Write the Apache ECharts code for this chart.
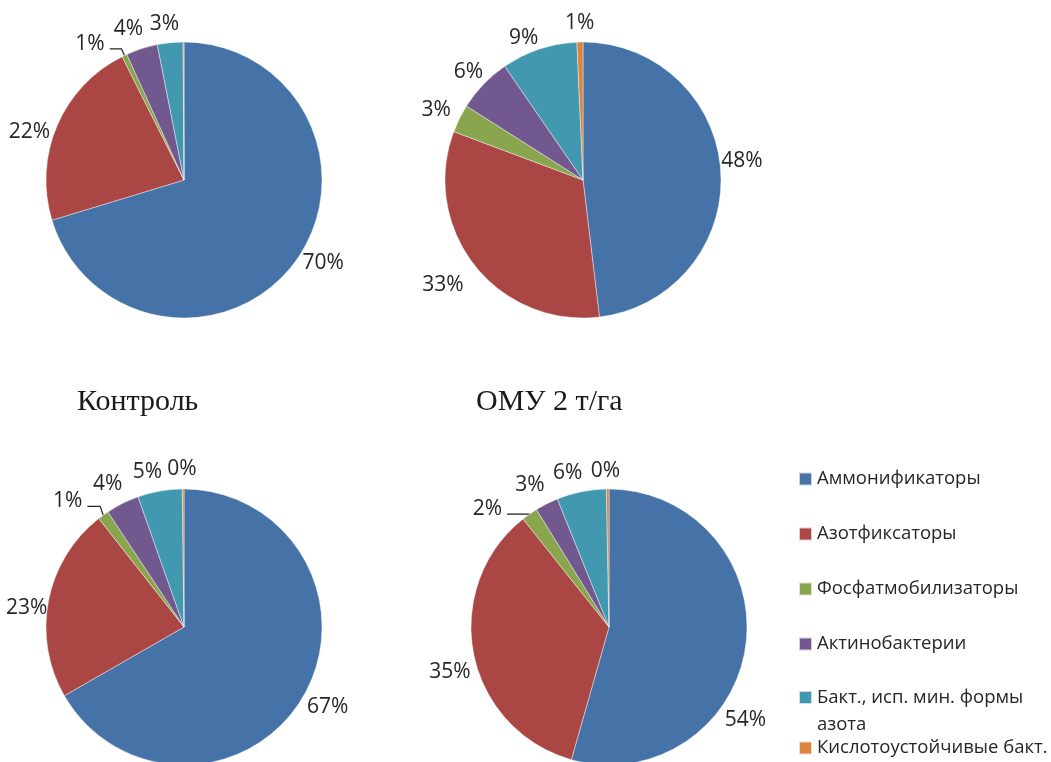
<!DOCTYPE html>
<html>
<head>
<meta charset="utf-8">
<script src="https://cdn.jsdelivr.net/npm/echarts@6/dist/echarts.min.js"></script>
<style>
  html, body { margin: 0; padding: 0; background: #fff; }
  #chart { width: 1051px; height: 762px; }
</style>
</head>
<body>
<div id="chart"></div>
<script>
// Groups of soil bacteria (share, %)
const categories = [
  'Аммонификаторы',
  'Азотфиксаторы',
  'Фосфатмобилизаторы',
  'Актинобактерии',
  'Бакт., исп. мин. формы азота',
  'Кислотоустойчивые бакт.'
];
const panelTitles = ['Контроль', 'ОМУ 2 т/га'];

// Four pies: control / OMU, upper and lower row
const controlUpper = [70.3, 22.3, 0.6, 3.7, 3.0, 0.1];
const omuUpper     = [48.1, 32.6, 3.3, 6.4, 8.9, 0.7];
const controlLower = [66.7, 22.7, 1.3, 3.9, 5.2, 0.2];
const omuLower     = [54.4, 34.9, 1.9, 2.7, 5.8, 0.3];

const palette = ['#4572A7', '#AA4643', '#89A54E', '#71588F', '#4198AF', '#DB843D'];

const RADIUS = 138;
const LABEL_GAP = 6;

// Layout of each pie: centre, hidden labels, slice with a leader line, label nudges
const pies = [
  { values: controlUpper, center: [184, 180], hidden: [5], leader: 2,
    nudge: [[5, -16], [-1, 18], [-25, 8], [-7, 0], [-4, -1], [0, 0]] },
  { values: omuUpper, center: [583, 180], hidden: [], leader: -1,
    nudge: [[-6, -9], [-9, 2], [-2, 2], [2, 4], [-9, 8], [0, -2]] },
  { values: controlLower, center: [184, 627], hidden: [], leader: 2,
    nudge: [[-1, -4], [6, 13], [-22, 5], [-5, 0], [-9, 0], [-1, -3]] },
  { values: omuLower, center: [609, 627], hidden: [], leader: 2,
    nudge: [[-28, 70], [4, 12], [-29, 14], [-7, 1], [-10, 0], [-2, -1]] }
];

// Mid angle of a slice, clockwise from 12 o'clock, in radians
function midAngle(values, idx) {
  const total = values.reduce((a, b) => a + b, 0);
  let cum = 0;
  for (let i = 0; i < idx; i++) cum += values[i];
  return 2 * Math.PI * (cum + values[idx] / 2) / total;
}

function makeLabelLayout(pie) {
  return function (params) {
    const i = params.dataIndex;
    const a = midAngle(pie.values, i);
    const dx = Math.sin(a), dy = -Math.cos(a);
    const w = params.labelRect.width, h = params.labelRect.height;
    const dist = RADIUS + LABEL_GAP + Math.abs(dx) * w / 2 + Math.abs(dy) * h / 2;
    const n = pie.nudge[i];
    const x = pie.center[0] + dx * dist + n[0];
    const y = pie.center[1] + dy * dist + n[1];
    const out = { x: x, y: y, align: 'center', verticalAlign: 'middle' };
    if (i === pie.leader) {
      const p0 = [pie.center[0] + dx * RADIUS, pie.center[1] + dy * RADIUS];
      const ly = Math.min(y + 5, p0[1]);
      const p1 = [p0[0] - 3, ly];
      const p2 = [x + w / 2 + 5, ly];
      out.labelLinePoints = [p0, p1, p2];
    }
    return out;
  };
}

const series = pies.map(function (pie) {
  return {
    type: 'pie',
    center: pie.center,
    radius: RADIUS,
    startAngle: 90,
    clockwise: true,
    avoidLabelOverlap: false,
    animation: false,
    silent: true,
    itemStyle: { borderColor: 'rgba(255,255,255,0.7)', borderWidth: 0.6 },
    label: {
      show: true,
      position: 'outside',
      formatter: function (p) { return Math.round(p.percent) + '%'; },
      fontFamily: 'Open Sans',
      fontSize: 21,
      color: '#262626',
      overflow: 'none'
    },
    labelLine: { show: false, lineStyle: { color: '#262626', width: 1.3 } },
    labelLayout: makeLabelLayout(pie),
    data: categories.map(function (name, i) {
      const item = { name: name, value: pie.values[i], itemStyle: { color: palette[i] } };
      if (pie.hidden.indexOf(i) >= 0) item.label = { show: false };
      if (i === pie.leader) item.labelLine = { show: true };
      return item;
    })
  };
});

const legendText = {
  fontFamily: 'Open Sans',
  fontSize: 18.5,
  color: '#262626',
  lineHeight: 20
};
const legendBase = {
  orient: 'vertical',
  left: 798,
  padding: 0,
  icon: 'rect',
  itemWidth: 13,
  itemHeight: 13,
  selectedMode: false
};
const titleText = { fontFamily: 'Liberation Serif', fontSize: 30, fontWeight: 'normal', color: '#1a1a1a' };

const option = {
  backgroundColor: '#ffffff',
  color: palette,
  title: [
    { text: panelTitles[0], left: 77, top: 387, padding: 0, textStyle: titleText },
    { text: panelTitles[1], left: 476, top: 387, padding: 0, textStyle: titleText }
  ],
  legend: [
    Object.assign({}, legendBase, {
      top: 469, itemGap: 35,
      data: categories.slice(0, 4),
      textStyle: legendText
    }),
    Object.assign({}, legendBase, {
      top: 657, itemGap: 0,
      data: [categories[4]],
      formatter: function () { return '\nБакт., исп. мин. формы\nазота'; },
      textStyle: Object.assign({}, legendText, { lineHeight: 27 })
    }),
    Object.assign({}, legendBase, {
      top: 738, itemGap: 0,
      data: [categories[5]],
      textStyle: legendText
    })
  ],
  series: series
};

const chart = echarts.init(document.getElementById('chart'), null, { renderer: 'canvas' });
chart.setOption(option);
</script>
</body>
</html>
